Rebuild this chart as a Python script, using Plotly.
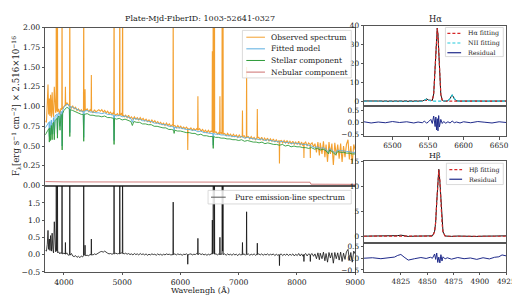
import plotly.graph_objects as go

# ---------------- main spectrum: observed + pure emission (same grid) ----------------
obs_wave = [3682, 3700, 3715, 3727, 3738, 3750, 3760, 3771, 3785, 3798,
            3810, 3822, 3835, 3848, 3858, 3866, 3869, 3873, 3885, 3889,
            3893, 3910, 3930, 3950, 3964, 3968, 3972, 4000, 4022, 4026,
            4030, 4050, 4075, 4097, 4101, 4105, 4130, 4150, 4175, 4200,
            4225, 4250, 4275, 4300, 4320, 4336, 4340, 4344, 4359, 4363,
            4367, 4400, 4425, 4450, 4467, 4471, 4475, 4500, 4525, 4550,
            4575, 4600, 4625, 4650, 4675, 4700, 4725, 4750, 4775, 4800,
            4825, 4845, 4857, 4861, 4865, 4890, 4920, 4940, 4955, 4959,
            4963, 4985, 5003, 5007, 5011, 5035, 5060, 5085, 5110, 5135,
            5160, 5185, 5210, 5235, 5260, 5285, 5310, 5335, 5360, 5385,
            5410, 5435, 5460, 5485, 5510, 5535, 5560, 5585, 5610, 5635,
            5660, 5685, 5710, 5735, 5760, 5785, 5810, 5835, 5860, 5872,
            5876, 5880, 5905, 5930, 5955, 5980, 6005, 6030, 6055, 6080,
            6105, 6122, 6126, 6130, 6155, 6180, 6205, 6230, 6255, 6280,
            6296, 6300, 6304, 6330, 6355, 6380, 6405, 6430, 6455, 6480,
            6505, 6525, 6544, 6548, 6552, 6559, 6563, 6567, 6580, 6584,
            6588, 6610, 6640, 6660, 6674, 6678, 6682, 6700, 6713, 6717,
            6724, 6731, 6735, 6760, 6785, 6810, 6835, 6860, 6885, 6910,
            6935, 6960, 6985, 7010, 7035, 7061, 7065, 7069, 7095, 7115,
            7132, 7136, 7140, 7165, 7190, 7215, 7240, 7265, 7290, 7316,
            7320, 7324, 7345, 7370, 7395, 7420, 7445, 7470, 7495, 7520,
            7545, 7570, 7595, 7620, 7645, 7670, 7696, 7700, 7704, 7730,
            7755, 7780, 7805, 7830, 7855, 7880, 7905, 7930, 7955, 7980,
            8005, 8030, 8055, 8080, 8105, 8116, 8120, 8124, 8150, 8175,
            8200, 8226, 8230, 8234, 8260, 8285, 8310, 8335, 8360, 8385,
            8400, 8430, 8455, 8480, 8500, 8525, 8550, 8575, 8600, 8625,
            8650, 8675, 8700, 8725, 8750, 8775, 8800, 8825, 8850, 8877,
            8900, 8925, 8950, 8975, 9000]

obs_flux = [0.82, 0.80, 1.05, 1.28, 0.90, 1.10, 0.88, 1.15, 0.86, 1.18,
            0.92, 0.87, 1.25, 0.95, 0.92, 0.94, 2.60, 0.96, 0.95, 2.60,
            0.93, 0.97, 0.90, 0.98, 0.96, 2.50, 0.97, 1.00, 1.02, 1.25,
            1.01, 1.05, 1.02, 1.00, 2.50, 1.00, 0.98, 1.01, 0.97, 0.99,
            0.95, 0.97, 0.94, 0.96, 0.93, 0.95, 2.60, 0.94, 0.96, 1.22,
            0.95, 0.97, 0.93, 0.96, 0.94, 1.40, 0.95, 0.92, 0.96, 0.93,
            0.95, 0.96, 0.94, 0.96, 0.93, 0.95, 0.92, 0.94, 0.91, 0.93,
            0.90, 0.92, 0.90, 3.00, 0.91, 0.89, 0.91, 0.88, 0.90, 3.00,
            0.89, 0.91, 0.88, 3.00, 0.90, 0.87, 0.89, 0.86, 0.89, 0.85,
            0.87, 0.84, 0.87, 0.84, 0.86, 0.83, 0.86, 0.83, 0.85, 0.82,
            0.84, 0.81, 0.83, 0.80, 0.83, 0.80, 0.82, 0.79, 0.81, 0.78,
            0.80, 0.77, 0.79, 0.76, 0.79, 0.76, 0.78, 0.75, 0.77, 0.76,
            2.40, 0.75, 0.76, 0.73, 0.76, 0.73, 0.75, 0.72, 0.74, 0.72,
            0.74, 0.72, 0.45, 0.72, 0.71, 0.73, 0.70, 0.72, 0.70, 0.72,
            0.70, 1.13, 0.70, 0.72, 0.69, 0.71, 0.68, 0.70, 0.67, 0.70,
            0.67, 0.69, 0.68, 1.70, 0.68, 0.66, 3.00, 0.67, 0.68, 3.00,
            0.67, 0.68, 0.65, 0.67, 0.65, 1.13, 0.66, 0.67, 0.65, 3.00,
            0.66, 3.00, 0.65, 0.66, 0.63, 0.66, 0.63, 0.65, 0.62, 0.65,
            0.62, 0.64, 0.61, 0.64, 0.61, 0.63, 0.95, 0.62, 0.63, 0.60,
            0.62, 1.50, 0.61, 0.62, 0.59, 0.62, 0.59, 0.61, 0.58, 0.61,
            0.97, 0.60, 0.61, 0.58, 0.61, 0.57, 0.60, 0.57, 0.60, 0.56,
            0.59, 0.56, 0.59, 0.55, 0.58, 0.55, 0.57, 0.28, 0.56, 0.57,
            0.54, 0.57, 0.54, 0.57, 0.53, 0.56, 0.53, 0.56, 0.52, 0.55,
            0.52, 0.56, 0.51, 0.55, 0.50, 0.54, 0.35, 0.53, 0.55, 0.50,
            0.54, 0.52, 0.35, 0.52, 0.54, 0.49, 0.53, 0.42, 0.55, 0.38,
            0.54, 0.40, 0.56, 0.36, 0.52, 0.30, 0.55, 0.40, 0.53, 0.26,
            0.54, 0.38, 0.52, 0.34, 0.53, 0.30, 0.50, 0.36, 0.52, 0.58,
            0.33, 0.50, 0.28, 0.52, 0.45]

emis_flux = [0.12, 0.10, 0.30, 0.70, 0.15, 0.45, 0.12, 0.55, 0.10, 0.62,
             0.15, 0.05, 0.95, 0.12, 0.08, 0.10, 2.60, 0.12, 0.10, 2.60,
             0.05, 0.08, 0.02, 0.06, 0.03, 2.50, 0.02, 0.04, 0.02, 0.35,
             0.01, 0.05, -0.02, 0.00, 2.50, -0.02, 0.03, -0.04, -0.06, -0.03,
             -0.08, -0.05, -0.09, -0.04, -0.07, -0.03, 2.60, -0.02, 0.00, 0.27,
             -0.03, -0.02, -0.04, 0.01, -0.02, 0.45, 0.00, -0.01, 0.02, 0.00,
             0.03, 0.06, 0.08, 0.09, 0.07, 0.10, 0.06, 0.04, 0.02, 0.03,
             0.01, 0.02, 0.03, 3.00, 0.02, 0.04, 0.02, 0.03, 0.02, 3.00,
             0.03, 0.05, 0.03, 3.00, 0.04, 0.02, 0.04, 0.01, 0.03, 0.00,
             0.02, -0.01, 0.03, 0.00, 0.02, -0.01, 0.03, 0.00, 0.02, -0.01,
             0.02, -0.02, 0.01, -0.01, 0.02, 0.00, 0.01, -0.02, 0.02, -0.01,
             0.01, -0.02, 0.01, -0.01, 0.02, 0.00, 0.01, -0.01, 0.01, 0.00,
             1.52, 0.00, 0.02, -0.01, 0.02, 0.00, 0.01, -0.02, 0.01, 0.00,
             0.02, 0.00, -0.28, -0.01, 0.01, 0.02, -0.01, 0.01, 0.00, 0.03,
             0.01, 0.47, 0.00, 0.03, 0.00, 0.02, -0.01, 0.01, -0.02, 0.01,
             -0.01, 0.02, 0.02, 1.00, 0.02, 0.03, 3.00, 0.02, 0.02, 3.00,
             0.01, 0.02, -0.01, 0.02, 0.00, 0.50, 0.00, 0.02, 0.00, 3.00,
             0.10, 3.00, 0.00, 0.02, -0.02, 0.02, -0.01, 0.01, -0.02, 0.02,
             -0.01, 0.01, -0.03, 0.02, -0.01, 0.00, 0.35, 0.00, 0.02, -0.02,
             0.01, 1.24, 0.00, 0.02, -0.02, 0.01, -0.01, 0.02, -0.02, 0.01,
             0.33, 0.00, 0.02, -0.01, 0.02, -0.02, 0.01, -0.01, 0.02, -0.02,
             0.01, -0.01, 0.02, -0.03, 0.01, -0.02, 0.00, -0.32, -0.01, 0.02,
             -0.03, 0.01, -0.02, 0.02, -0.03, 0.01, -0.02, 0.02, -0.04, 0.01,
             -0.03, 0.03, -0.04, 0.02, -0.05, 0.00, -0.20, -0.01, 0.03, -0.04,
             0.02, 0.00, -0.20, -0.01, 0.03, -0.05, 0.02, -0.12, 0.05, -0.15,
             0.04, -0.12, 0.07, -0.18, 0.03, -0.22, 0.06, -0.10, 0.05, -0.25,
             0.06, -0.12, 0.05, -0.16, 0.07, -0.20, 0.04, -0.14, 0.08, 0.15,
             -0.16, 0.06, -0.22, 0.10, 0.02]

# ---------------- stellar component and fitted model (same grid) ----------------
stel_wave = [3680, 3700, 3725, 3742, 3750, 3758, 3771, 3784, 3798, 3812,
             3822, 3835, 3848, 3870, 3881, 3889, 3897, 3915, 3933, 3950,
             3962, 3970, 3978, 4000, 4025, 4050, 4075, 4093, 4101, 4109,
             4150, 4200, 4250, 4300, 4332, 4340, 4348, 4400, 4450, 4500,
             4550, 4600, 4650, 4700, 4750, 4800, 4853, 4861, 4869, 4900,
             4950, 5000, 5050, 5100, 5150, 5175, 5200, 5250, 5300, 5350,
             5400, 5450, 5500, 5550, 5600, 5650, 5700, 5750, 5800, 5850,
             5882, 5892, 5902, 5950, 6000, 6050, 6100, 6150, 6200, 6250,
             6300, 6350, 6400, 6450, 6500, 6555, 6563, 6571, 6600, 6650,
             6700, 6750, 6800, 6850, 6900, 6950, 7000, 7050, 7100, 7150,
             7200, 7250, 7300, 7350, 7400, 7450, 7500, 7550, 7600, 7650,
             7700, 7750, 7800, 7850, 7900, 7950, 8000, 8050, 8100, 8150,
             8200, 8250, 8300, 8350, 8400, 8450, 8498, 8542, 8560, 8600,
             8662, 8700, 8750, 8800, 8850, 8900, 8950, 9000]

stel_flux = [0.64, 0.66, 0.70, 0.72, 0.55, 0.73, 0.57, 0.76, 0.58, 0.79,
             0.80, 0.58, 0.82, 0.84, 0.85, 0.60, 0.86, 0.88, 0.70, 0.90,
             0.89, 0.45, 0.91, 0.95, 0.97, 0.99, 0.98, 0.97, 0.62, 0.96,
             0.95, 0.93, 0.92, 0.90, 0.90, 0.56, 0.90, 0.91, 0.89, 0.89,
             0.88, 0.88, 0.87, 0.88, 0.86, 0.86, 0.85, 0.52, 0.85, 0.84,
             0.85, 0.83, 0.84, 0.82, 0.81, 0.76, 0.81, 0.80, 0.80, 0.78,
             0.78, 0.77, 0.77, 0.75, 0.75, 0.74, 0.73, 0.73, 0.71, 0.71,
             0.70, 0.66, 0.70, 0.69, 0.69, 0.68, 0.67, 0.67, 0.66, 0.66,
             0.64, 0.65, 0.63, 0.63, 0.62, 0.62, 0.47, 0.62, 0.61, 0.61,
             0.60, 0.60, 0.59, 0.59, 0.58, 0.58, 0.57, 0.58, 0.56, 0.57,
             0.56, 0.55, 0.55, 0.54, 0.55, 0.53, 0.54, 0.53, 0.52, 0.52,
             0.51, 0.52, 0.50, 0.51, 0.49, 0.50, 0.49, 0.49, 0.48, 0.48,
             0.47, 0.48, 0.46, 0.47, 0.45, 0.46, 0.44, 0.40, 0.45, 0.43,
             0.39, 0.43, 0.42, 0.42, 0.41, 0.41, 0.40, 0.40]

model_flux = [0.73, 0.75, 0.78, 0.80, 0.62, 0.81, 0.64, 0.83, 0.65, 0.85,
              0.86, 0.65, 0.88, 0.90, 0.90, 0.66, 0.91, 0.92, 0.75, 0.94,
              0.93, 0.50, 0.95, 0.99, 1.01, 1.03, 1.02, 1.01, 0.67, 1.00,
              0.99, 0.97, 0.96, 0.94, 0.94, 0.61, 0.94, 0.95, 0.93, 0.93,
              0.92, 0.92, 0.91, 0.92, 0.90, 0.90, 0.89, 0.57, 0.89, 0.88,
              0.89, 0.87, 0.88, 0.86, 0.85, 0.80, 0.85, 0.84, 0.84, 0.82,
              0.82, 0.81, 0.81, 0.79, 0.79, 0.78, 0.77, 0.77, 0.75, 0.75,
              0.74, 0.70, 0.74, 0.73, 0.73, 0.72, 0.71, 0.71, 0.70, 0.70,
              0.68, 0.69, 0.67, 0.67, 0.66, 0.66, 0.51, 0.66, 0.65, 0.65,
              0.64, 0.64, 0.63, 0.63, 0.62, 0.62, 0.61, 0.62, 0.60, 0.61,
              0.60, 0.59, 0.59, 0.58, 0.59, 0.57, 0.58, 0.57, 0.56, 0.56,
              0.55, 0.56, 0.54, 0.55, 0.53, 0.54, 0.53, 0.53, 0.52, 0.52,
              0.51, 0.50, 0.48, 0.49, 0.47, 0.48, 0.46, 0.42, 0.47, 0.45,
              0.41, 0.45, 0.44, 0.44, 0.43, 0.43, 0.42, 0.42]

# ---------------- nebular component ----------------
neb_wave = [3680, 4000, 5000, 6000, 7000, 8000, 8225, 8240, 9000]
neb_flux = [0.050, 0.046, 0.045, 0.044, 0.043, 0.042, 0.042, 0.017, 0.015]

# ---------------- H-alpha window ----------------
ha_wave = [6460, 6470, 6480, 6490, 6500, 6510, 6520, 6530, 6536, 6542,
           6545, 6548, 6551, 6554, 6556, 6558, 6560, 6561, 6562, 6563,
           6564, 6565, 6566, 6568, 6570, 6572, 6575, 6578, 6581, 6584,
           6587, 6590, 6595, 6600, 6610, 6620, 6630, 6640, 6650, 6660]
ha_obs = [0.10, -0.10, 0.05, -0.05, 0.10, 0.00, -0.08, 0.06, 0.00, 0.05,
          0.55, 1.20, 0.50, 0.15, 0.30, 3.80, 16.2, 26.6, 34.8, 38.7,
          35.2, 26.2, 16.6, 3.50, 0.45, 0.05, -0.05, 0.15, 1.40, 3.30,
          1.30, 0.15, 0.00, 0.08, -0.06, 0.05, -0.04, 0.06, 0.00, 0.05]
ha_fit = [0, 0, 0, 0, 0, 0, 0, 0, 0, 0,
          0, 0, 0, 0.02, 0.38, 3.6, 16.4, 26.4, 35.0, 38.5,
          35.0, 26.4, 16.4, 3.6, 0.38, 0.02, 0, 0, 0, 0,
          0, 0, 0, 0, 0, 0, 0, 0, 0, 0]
nii_fit = [0, 0, 0, 0, 0, 0, 0, 0, 0, 0.03,
           0.47, 1.10, 0.47, 0.03, 0, 0, 0, 0, 0, 0,
           0, 0, 0, 0, 0, 0, 0, 0.10, 1.36, 3.20,
           1.36, 0.10, 0, 0, 0, 0, 0, 0, 0, 0]
ha_resid = [0.02, -0.03, 0.01, -0.02, 0.03, -0.01, 0.02, -0.03, 0.01, -0.02,
            0.05, -0.04, 0.03, 0.12, -0.05, 0.26, -0.18, 0.22, -0.32, 0.15,
            -0.36, 0.28, -0.20, 0.12, -0.05, 0.03, -0.04, 0.02, -0.03, 0.05,
            -0.02, 0.01, -0.03, 0.02, -0.02, 0.03, 0.00, -0.03, 0.02, -0.01]

# ---------------- H-beta window ----------------
hb_wave = [4790, 4798, 4806, 4814, 4819, 4822, 4825, 4828, 4832, 4838,
           4844, 4849, 4853, 4855, 4857, 4858, 4859, 4860, 4861, 4862,
           4863, 4864, 4865, 4867, 4869, 4873, 4879, 4885, 4891, 4897,
           4903, 4909, 4914, 4918, 4921, 4925]
hb_obs = [0.02, 0.05, -0.03, 0.04, 0.06, 0.12, 0.22, 0.10, -0.04, 0.02,
          0.05, -0.02, 0.04, 0.08, 1.00, 2.70, 6.80, 11.0, 13.4, 11.0,
          6.80, 2.60, 0.90, 0.05, 0.02, -0.03, 0.04, -0.02, 0.03, -0.04,
          0.02, -0.03, 0.04, 0.06, 0.12, 0.08]
hb_fit = [0, 0, 0, 0, 0, 0, 0, 0, 0, 0,
          0, 0, 0, 0.03, 0.83, 2.8, 6.66, 11.2, 13.3, 11.2,
          6.66, 2.8, 0.83, 0.03, 0, 0, 0, 0, 0, 0,
          0, 0, 0, 0, 0, 0]
hb_resid = [0.00, 0.02, -0.02, 0.01, 0.05, 0.12, 0.16, 0.05, -0.08, -0.02,
            0.03, -0.01, 0.04, 0.00, 0.18, -0.05, 0.22, -0.18, 0.05, -0.20,
            0.15, -0.12, 0.06, -0.03, 0.02, -0.04, 0.03, -0.02, 0.01, -0.05,
            0.02, -0.03, 0.04, 0.06, 0.14, 0.10]

# ---------------- ticks / labels ----------------
main_xticks = [4000, 5000, 6000, 7000, 8000, 9000]
upper_yticks = [0.0, 0.25, 0.5, 0.75, 1.0, 1.25, 1.5, 1.75, 2.0]
lower_yticks = [-0.5, 0.0, 0.5, 1.0, 1.5]
ha_xticks = [6500, 6550, 6600, 6650]
ha_yticks = [0, 10, 20, 30, 40]
hb_xticks = [4825, 4850, 4875, 4900, 4925]
hb_yticks = [0, 5, 10, 15]
resid_yticks = [-0.5, 0.0, 0.5]

legend_main = ["Observed spectrum", "Fitted model", "Stellar component", "Nebular component"]
legend_lower = ["Pure emission-line spectrum"]
legend_ha = ["H\u03b1 fitting", "NII fitting", "Residual"]
legend_hb = ["H\u03b2 fitting", "Residual"]

assert len(obs_wave) == len(obs_flux) == len(emis_flux)
assert len(stel_wave) == len(stel_flux) == len(model_flux)
assert len(ha_wave) == len(ha_obs) == len(ha_fit) == len(nii_fit) == len(ha_resid)
assert len(hb_wave) == len(hb_obs) == len(hb_fit) == len(hb_resid)

# ---------------- styling ----------------
C_OBS = "rgba(242,150,24,0.9)"
C_MODEL = "#5aaee0"
C_STEL = "#2e9b3a"
C_NEB = "#cd6f6f"
C_EMIS = "#111111"
C_FIT = "#d62728"
C_NII = "#22c9dc"
C_RES = "#1f2a8a"
FONT = "DejaVu Serif"
W, H = 520, 295


def fx(p):
    return p / W


def fy(p):
    return 1 - p / H


fig = go.Figure()


def add(x, y, xa, ya, color, width=0.8, dash=None):
    fig.add_trace(go.Scatter(x=x, y=y, xaxis=xa, yaxis=ya, mode="lines",
                             line=dict(color=color, width=width, dash=dash),
                             showlegend=False, hoverinfo="skip"))


add(obs_wave, obs_flux, "x", "y", C_OBS, 1.1)
add(stel_wave, model_flux, "x", "y", C_MODEL, 0.9)
add(stel_wave, stel_flux, "x", "y", C_STEL, 0.9)
add(neb_wave, neb_flux, "x", "y", C_NEB, 0.9)
add(obs_wave, emis_flux, "x2", "y2", C_EMIS, 0.8)

add(ha_wave, ha_obs, "x3", "y3", "#111111", 1.0)
add(ha_wave, ha_fit, "x3", "y3", C_FIT, 1.2, "3px,2px")
add(ha_wave, nii_fit, "x3", "y3", C_NII, 1.2, "3px,2px")
add(ha_wave, ha_resid, "x4", "y4", C_RES, 1.0)

add(hb_wave, hb_obs, "x5", "y5", "#111111", 1.0)
add(hb_wave, hb_fit, "x5", "y5", C_FIT, 1.2, "3px,2px")
add(hb_wave, hb_resid, "x6", "y6", C_RES, 1.0)

base = dict(showline=True, mirror=True, linecolor="#555555", linewidth=1,
            showgrid=False, zeroline=False, ticks="outside", ticklen=2.5,
            tickwidth=0.8, tickcolor="#555555",
            tickfont=dict(family=FONT, size=7.7, color="#222222"))
side_font = dict(family=FONT, size=7.3, color="#222222")


def ax(**kw):
    d = dict(base)
    d.update(kw)
    return d


MX = [fx(38), fx(354)]
SX = [fx(363), fx(508)]
fig.update_layout(
    width=W, height=H, margin=dict(l=0, r=0, t=0, b=0),
    paper_bgcolor="white", plot_bgcolor="white", showlegend=False,
    xaxis=ax(domain=MX, range=[3680, 9000], anchor="y", showticklabels=False, ticks=""),
    yaxis=ax(domain=[fy(179), fy(16)], range=[0, 2], anchor="x",
             tickvals=upper_yticks, tickformat=".2f"),
    xaxis2=ax(domain=MX, range=[3680, 9000], anchor="y2", matches="x",
              tickvals=main_xticks),
    yaxis2=ax(domain=[fy(268), fy(179)], range=[-0.5, 2.0], anchor="x2",
              tickvals=lower_yticks, tickformat=".1f"),
    xaxis3=ax(domain=SX, range=[6460, 6660], anchor="y3", showticklabels=False, ticks=""),
    yaxis3=ax(domain=[fy(97), fy(14)], range=[-2.6, 40], anchor="x3", tickvals=ha_yticks,
              tickfont=side_font),
    xaxis4=ax(domain=SX, range=[6460, 6660], anchor="y4", tickvals=ha_xticks,
              tickfont=side_font),
    yaxis4=ax(domain=[fy(128), fy(97)], range=[-0.58, 0.68], anchor="x4",
              tickvals=resid_yticks, tickformat=".1f", tickfont=side_font),
    xaxis5=ax(domain=SX, range=[4790, 4925], anchor="y5", showticklabels=False, ticks=""),
    yaxis5=ax(domain=[fy(238), fy(154)], range=[-1.3, 15], anchor="x5", tickvals=hb_yticks,
              tickfont=side_font),
    xaxis6=ax(domain=SX, range=[4790, 4925], anchor="y6", tickvals=hb_xticks,
              tickfont=side_font),
    yaxis6=ax(domain=[fy(268), fy(238)], range=[-0.58, 0.66], anchor="x6",
              tickvals=resid_yticks, tickformat=".1f", tickfont=side_font),
)


def text(x, y, s, size=8, angle=0, xanchor="center"):
    fig.add_annotation(x=fx(x), y=fy(y), xref="paper", yref="paper", text=s,
                       showarrow=False, textangle=angle, xanchor=xanchor, yanchor="middle",
                       font=dict(family=FONT, size=size, color="#222222"))


text(196, 7, "Plate-Mjd-FiberID: 1003-52641-0327", 8)
text(435.5, 7, "H\u03b1", 8.3)
text(435.5, 147.5, "H\u03b2", 8)
text(196, 287, "Wavelengh (\u00c5)", 8)
text(8, 97, "F<sub>\u03bb</sub>[erg s<sup>\u22121</sup> cm<sup>\u22122</sup>] \u00d7 2.516\u00d710<sup>\u221216</sup>",
     8.6, angle=-90)


def legend_box(x0, x1, y0, y1, rows, sx0, sx1, tx, fsize):
    fig.add_shape(type="rect", xref="paper", yref="paper",
                  x0=fx(x0), x1=fx(x1), y0=fy(y1), y1=fy(y0),
                  line=dict(color="#d0d0d0", width=0.8),
                  fillcolor="rgba(255,255,255,0.85)", layer="above")
    for yy, name, color, dash, width in rows:
        fig.add_shape(type="line", xref="paper", yref="paper",
                      x0=fx(sx0), x1=fx(sx1), y0=fy(yy), y1=fy(yy),
                      line=dict(color=color, width=width, dash=dash), layer="above")
        text(tx, yy, name, fsize, xanchor="left")


legend_box(239, 350, 19, 68,
           list(zip([26, 38, 50, 62], legend_main,
                    [C_OBS, C_MODEL, C_STEL, C_NEB], [None] * 4, [1.0] * 4)),
           243, 262, 266, 7.6)
legend_box(204, 350, 184, 198,
           list(zip([191], legend_lower, ["#555555"], [None], [1.0])),
           207, 222, 229, 7.6)
legend_box(446, 505, 16, 46,
           list(zip([22, 32, 42], legend_ha, [C_FIT, C_NII, C_RES],
                    ["3px,2px", "3px,2px", None], [1.2, 1.2, 1.2])),
           448, 462, 467, 6.3)
legend_box(447, 505, 156, 178,
           list(zip([162.5, 172.5], legend_hb, [C_FIT, C_RES],
                    ["3px,2px", None], [1.2, 1.2])),
           450, 463, 468, 6.3)

fig.write_html("out.html")
